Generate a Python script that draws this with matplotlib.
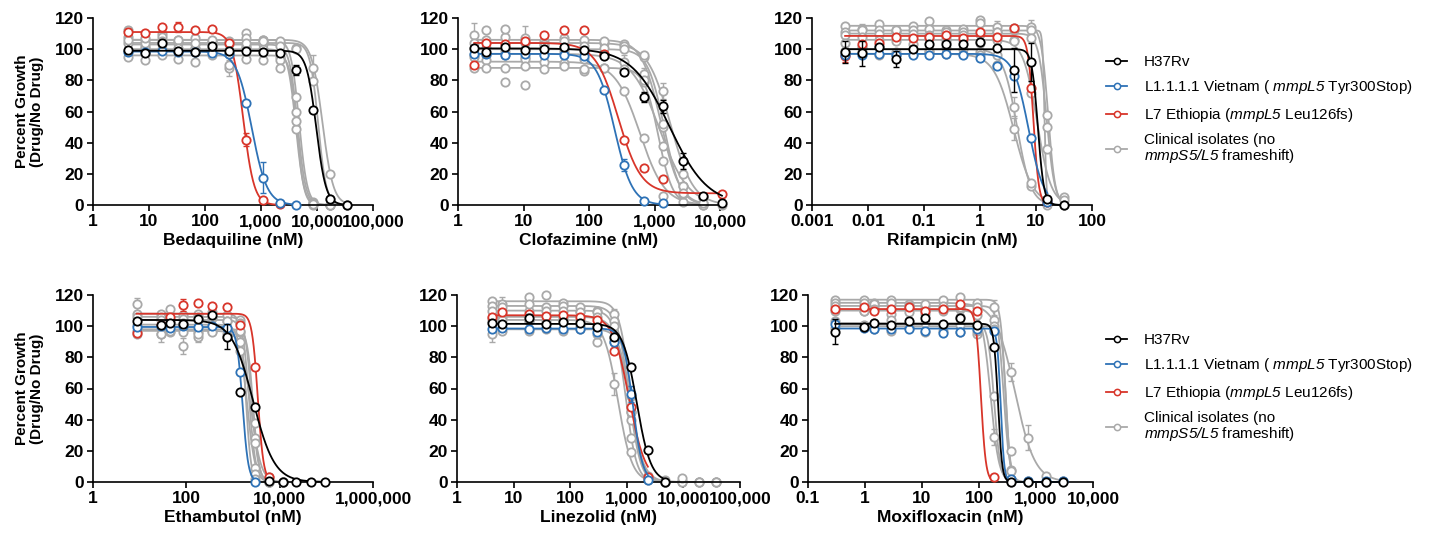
import numpy as np
import matplotlib
matplotlib.use("Agg")
import matplotlib.pyplot as plt
from matplotlib.lines import Line2D

plt.rcParams['font.family'] = ['Liberation Sans', 'DejaVu Sans']
# only the gene names are mathtext, so the math roman font is the italic face
plt.rcParams['mathtext.fontset'] = 'custom'
plt.rcParams['mathtext.rm'] = 'Liberation Sans:italic'
plt.rcParams['mathtext.it'] = 'Liberation Sans:italic'

nan = np.nan

# ---------------- data ----------------
# fit tuples are (top, bottom, IC50, hill slope); error dicts are {index: SD}

# Bedaquiline
bdq_conc = [4.2, 8.4, 16.8, 33.6, 67, 134, 268, 537, 1075, 2150, 4300, 8600, 17200, 34400]
bdq_h37rv = [99.6, 97.7, 103.8, 99.1, 98.5, 101.9, 99.1, 99.1, 98.5, 97.4, 86.6, 61.2, 3.6, 0.0]
bdq_viet = [98.5, 98.0, 99.0, 98.0, 98.5, 97.5, 97.0, 65.5, 17.5, 1.5, 0.0, nan, nan, nan]
bdq_eth = [111, 110.4, 114.3, 114.3, 112, 113, 104, 42, 3.2, 0.5, nan, nan, nan, nan]
bdq_clin = [
    [108, 106, 110, 104, 107, 105, 104, 110.5, 106, 104, 69, 2, 0, nan],
    [104, 102, 100, 106, 101, 104, 97, 102, 103, 95, 60, 1, 0, nan],
    [99, 101, 103, 99, 100, 98, 88, 101, 100, 93, 49, 0, 0, nan],
    [95, 93, 96, 94, 92, 96, 90, 94, 93, 88, 54, 0.5, 0, nan],
    [112, 104, 108, 106, 103, 106, 105, 107, 106, 105, 101, 88, 19.6, 0],
    [106, 107, 105, 101, 104, 100, 103, 104, 105, 102, 100, 79.5, 4, 0],
]
bdq_fit_h37rv = (99, 0, 9700, 5)
bdq_fit_viet = (98.5, 0, 685, 3.2)
bdq_fit_eth = (111, 0, 481, 4.5)
bdq_fit_clin = [(106, 0, 4800, 6), (103, 0, 4500, 6), (100, 0, 4200, 6),
                (96, 0, 4400, 7), (106, 0, 12500, 4.5), (104, 0, 10500, 6)]
bdq_err_h37rv = {10: 3}
bdq_err_viet = {8: 10}
bdq_err_eth = {3: 3, 7: 4}
bdq_err_clin = [(0, 0, 6), (4, 11, 8), (2, 6, 5), (5, 0, 4)]

# Clofazimine
cfz_conc = [1.77, 2.64, 5.2, 10.4, 20.8, 42, 85, 170, 345, 690, 1370, 2750, 5450, 10700]
cfz_h37rv = [100.6, 98.1, 101.3, 99.6, 100.2, 101.3, 99.6, 95.5, 85.3, 69.3, 63.3, 28.4, 5.8, 1.5]
cfz_viet = [97, 97, 96.5, 97, 96, 96.5, 95.5, 74, 25.5, 2.5, 1, nan, nan, nan]
cfz_eth = [90, 104, 103, 105, 109, 112, 112.5, 97, 42, 23.5, 17, nan, nan, 7]
cfz_clin = [
    [109, 106, 108, 104, 105, 107, 106, 104, 103.4, 84, 50, 12, 1, nan],
    [104, 112, 113, 107, 103, 105, 102, 105, 102, 95, 73, 20, 5, 0],
    [96, 96, 99, 95, 97, 98, 94, 97, 92, 79, 38, 12, 4.5, nan],
    [95, 93, 96, 94, 92, 91, 86, 88, 73, 43, 6, 2, 0, nan],
    [88, 88, 88, 89, 87.5, 89, 87, 88, 87, 80, 28, 7, 0, nan],
    [100, 101, 78.9, 76.8, 102, 100, 99, 101, 100, 96, 52, 8, 1, nan],
]
cfz_fit_h37rv = (100.5, 0, 1700, 1.5)
cfz_fit_viet = (97, 0, 246, 3.2)
cfz_fit_eth = (104, 7.5, 280, 2.5)
cfz_fit_clin = [(106, 0, 1250, 3), (104, 0, 1750, 2.5), (97, 0, 1200, 2),
                (92, 0, 600, 2.3), (88, 0, 1150, 4), (100, 0, 1400, 3.5)]
cfz_err_h37rv = {9: 3, 10: 4, 11: 5}
cfz_err_viet = {8: 4}
cfz_err_eth = {}
cfz_err_clin = [(0, 0, 8), (1, 3, 8), (1, 10, 5), (0, 9, 4), (2, 8, 4)]

# Rifampicin
rif_conc = [0.0039, 0.0078, 0.0156, 0.031, 0.0625, 0.125, 0.25, 0.5, 1, 2, 4, 8, 16, 32]
rif_h37rv = [98, 97.4, 101.3, 93.8, 100.2, 103, 103, 103, 104.5, 100.9, 86.8, 91.7, 3.8, 0]
rif_viet = [96, 96.5, 97, 96, 96.5, 96.5, 97, 96, 94.4, 89.5, 82.5, 43, 2, nan]
rif_eth = [95.5, 103, 104, 108, 107, 108, 109, 107, 110.8, 108, 113.6, 75, 2, nan]
rif_clin = [
    [115, 113, 116, 112, 115, 118, 112, 113, 119, 114, 113.6, 114, 58, 5],
    [111, 112, 112, 111, 112, 113, 111, 111, 116.8, 111, 112, 112, 3, 0],
    [109, 108, 110, 112, 110, 109, 108, 109, 110, 111, 106, 107, 50, 3],
    [104, 102, 106, 105, 103, 107, 105, 106, 104, 106, 105, 72, 36, 0],
    [99, 101, 102, 98, 100, 99, 101, 100, 98, 96, 63, 12, 0, nan],
    [97, 98, 96, 96, 97, 98, 97, 97, 96, 90, 49, 14, 2, nan],
]
rif_fit_h37rv = (100, 0, 10.8, 8)
rif_fit_viet = (97, 0, 7.4, 3.2)
rif_fit_eth = (108.5, 0, 9, 9)
rif_fit_clin = [(115, 0, 16.5, 7), (112, 0, 14.2, 25), (110, 0, 15.5, 6),
                (106, 0, 10.5, 3.5), (100, 0, 4.6, 3.5), (97, 0, 4.0, 2.5)]
rif_err_h37rv = {0: 7, 1: 8, 3: 5, 10: 14, 11: 12}
rif_err_viet = {}
rif_err_eth = {0: 4}
rif_err_clin = [(5, 10, 7), (4, 10, 6), (0, 9, 4), (0, 11, 5), (0, 1, 3)]

# Ethambutol
emb_conc = [8.6, 28.6, 44.7, 86, 174, 360, 733, 1410, 2960, 6000, 11600, 22200, 46500, 93000]
emb_h37rv = [103.5, 100.9, 102, 101.4, 104.6, 107.1, 93.2, 58, 48.2, 0.5, 0, 0, 0, 0]
emb_viet = [99.2, 100, 99, 100, 99.5, 100, 99, 70.3, 0, nan, nan, nan, nan, nan]
emb_eth = [95.6, 101, 106, 113.5, 115, 113, 112, 101, 74, 3, nan, nan, nan, nan]
emb_clin = [
    [114, 108, 111, 107, 108, 109, 107, 104, 9, 0, 0, nan, nan, nan],
    [108, 106, 104, 104.6, 106, 105, 103, 102, 28, 0.5, 0, nan, nan, nan],
    [101, 95, 101, 87.4, 92.8, 100, 95, 89.6, 5, 0, 0, nan, nan, nan],
    [97, 99, 96, 98, 96, 97, 99, 96, 38, 0, 0, nan, nan, nan],
    [106, 104, 103, 102, 104, 106, 103, 97, 2, 0, 0, nan, nan, nan],
    [95, 95, 97, 96, 95, 96, 93, 84, 25, 3, 0, nan, nan, nan],
]
emb_fit_h37rv = (104, 0, 2700, 1.9)
emb_fit_viet = (99.5, 0, 1600, 7)
emb_fit_eth = (108, 0, 3400, 7)
emb_fit_clin = [(108, 0, 2200, 6), (106, 0, 2500, 6), (101, 0, 2000, 5),
                (98, 0, 2700, 7), (104, 0, 1900, 8), (97, 0, 2400, 4)]
emb_err_h37rv = {6: 8}
emb_err_viet = {}
emb_err_eth = {3: 4}
emb_err_clin = [(0, 0, 4), (2, 1, 5), (2, 3, 5), (2, 4, 3), (3, 6, 4)]

# Linezolid
lzd_conc = [4.2, 6.3, 19, 37, 74, 148, 296, 590, 1180, 2360, 4720, 9440, 18900, 37800]
lzd_h37rv = [101.8, 101.4, 105, 101.4, 102.4, 102, 99.6, 93.2, 73.5, 20.6, 0, nan, nan, nan]
lzd_viet = [98.5, 99, 98, 99, 98, 98.5, 96.5, 90, 56.4, 1, nan, nan, nan, nan]
lzd_eth = [106, 108.9, 108, 106.5, 107, 106, 104, 84, 48, 3, nan, nan, nan, nan]
lzd_clin = [
    [116, 114, 118.5, 120, 115, 110, 110, 108, 55, 3, 0, 0, 0, 0],
    [113, 112, 110, 112, 113, 112, 109, 103, 45, 2, 0, 0.5, 0, 0],
    [110, 108, 114, 109.6, 110, 109, 106, 100, 28, 1, 0, 0, nan, nan],
    [105, 106, 104, 104, 105, 104, 100, 90, 40, 4, 1, 2.5, 0, 0],
    [103, 104, 103, 102, 104, 100, 90, 63, 19, 2, 0, nan, nan, nan],
    [95, 97, 97, 98, 97, 98, 95, 92, 45, 3, 0, nan, nan, nan],
]
lzd_fit_h37rv = (101.5, 0, 1500, 3.5)
lzd_fit_viet = (98.5, 0, 1280, 5)
lzd_fit_eth = (107, 0, 1100, 3)
lzd_fit_clin = [(116, 0, 1150, 4.5), (113, 0, 1100, 4), (110, 0, 950, 4.5),
                (106, 0, 1100, 3.5), (104, 0, 700, 3.5), (98, 0, 1150, 4.5)]
lzd_err_h37rv = {2: 3}
lzd_err_viet = {8: 5}
lzd_err_eth = {}
lzd_err_clin = [(0, 1, 5), (0, 7, 3), (4, 7, 7), (5, 0, 5), (1, 6, 3)]

# Moxifloxacin
mfx_conc = [0.3, 0.98, 1.46, 2.9, 5.8, 11.5, 23, 46, 92, 184, 368, 736, 1472, 2944]
mfx_h37rv = [96.4, 99.6, 102, 100.7, 103.5, 105, 101.4, 105, 100.7, 86.4, 0, 0, 0, 0]
mfx_viet = [101.5, 99, 98.5, 98, 98, 97, 95.5, 96, 98, 97, 2, 0.5, 0.5, 0.5]
mfx_eth = [111, 112, 110, 111, 112, 110, 111, 114, 110, 3.5, nan, nan, nan, nan]
mfx_clin = [
    [117, 117, 115, 117, 114, 113, 117, 119, 115, 112, 20, 0, 0, nan],
    [115, 115, 113, 111, 112, 110, 112, 111, 107, 104, 70.6, 28.5, 4, 0.5],
    [113, 110, 114, 115, 113, 114, 113, 112, 112, 100, 8, 0, 0, nan],
    [110, 110, 111, 108, 109, 108, 110, 106, 100, 29, 1, 0, nan, nan],
    [103, 101, 102, 104, 100, 102, 100, 101, 95, 55, 0, 0, nan, nan],
    [99, 100, 98, 97, 99, 96, 97, 96, 97, 98, 7, 0.5, 0, nan],
]
mfx_fit_h37rv = (101.5, 0, 215, 12)
mfx_fit_viet = (98.5, 0, 240, 14)
mfx_fit_eth = (111, 0, 108, 10)
mfx_fit_clin = [(117, 0, 290, 10), (115, 0, 430, 2.5), (113, 0, 270, 8),
                (110, 0, 160, 6), (102, 0, 185, 8), (100, 0, 300, 12)]
mfx_err_h37rv = {0: 8}
mfx_err_viet = {0: 3}
mfx_err_eth = {}
mfx_err_clin = [(0, 9, 5), (1, 11, 8), (1, 10, 6), (3, 9, 5)]

# axis labels / ticks
drug_names = ['Bedaquiline (nM)', 'Clofazimine (nM)', 'Rifampicin (nM)',
              'Ethambutol (nM)', 'Linezolid (nM)', 'Moxifloxacin (nM)']
bdq_ticks = [1, 10, 100, 1000, 10000, 100000]
cfz_ticks = [1, 10, 100, 1000, 10000]
rif_ticks = [0.001, 0.01, 0.1, 1, 10, 100]
emb_ticks = [1, 100, 10000, 1000000]
lzd_ticks = [1, 10, 100, 1000, 10000, 100000]
mfx_ticks = [0.1, 1, 10, 100, 1000, 10000]
y_ticks = [0, 20, 40, 60, 80, 100, 120]

legend_labels = ['H37Rv',
                 'L1.1.1.1 Vietnam ( $\\mathrm{mmpL5}$ Tyr300Stop)',
                 'L7 Ethiopia ($\\mathrm{mmpL5}$ Leu126fs)',
                 'Clinical isolates (no\n$\\mathrm{mmpS5/L5}$ frameshift)']

BLACK = '#000000'
BLUE = '#2e72b6'
RED = '#d8352a'
GRAY = '#a9a9a9'


def hill(x, top, bottom, ic50, h):
    return bottom + (top - bottom) / (1 + (x / ic50) ** h)


panels = [
    (bdq_conc, bdq_h37rv, bdq_viet, bdq_eth, bdq_clin, bdq_fit_h37rv, bdq_fit_viet, bdq_fit_eth,
     bdq_fit_clin, bdq_err_h37rv, bdq_err_viet, bdq_err_eth, bdq_err_clin, bdq_ticks),
    (cfz_conc, cfz_h37rv, cfz_viet, cfz_eth, cfz_clin, cfz_fit_h37rv, cfz_fit_viet, cfz_fit_eth,
     cfz_fit_clin, cfz_err_h37rv, cfz_err_viet, cfz_err_eth, cfz_err_clin, cfz_ticks),
    (rif_conc, rif_h37rv, rif_viet, rif_eth, rif_clin, rif_fit_h37rv, rif_fit_viet, rif_fit_eth,
     rif_fit_clin, rif_err_h37rv, rif_err_viet, rif_err_eth, rif_err_clin, rif_ticks),
    (emb_conc, emb_h37rv, emb_viet, emb_eth, emb_clin, emb_fit_h37rv, emb_fit_viet, emb_fit_eth,
     emb_fit_clin, emb_err_h37rv, emb_err_viet, emb_err_eth, emb_err_clin, emb_ticks),
    (lzd_conc, lzd_h37rv, lzd_viet, lzd_eth, lzd_clin, lzd_fit_h37rv, lzd_fit_viet, lzd_fit_eth,
     lzd_fit_clin, lzd_err_h37rv, lzd_err_viet, lzd_err_eth, lzd_err_clin, lzd_ticks),
    (mfx_conc, mfx_h37rv, mfx_viet, mfx_eth, mfx_clin, mfx_fit_h37rv, mfx_fit_viet, mfx_fit_eth,
     mfx_fit_clin, mfx_err_h37rv, mfx_err_viet, mfx_err_eth, mfx_err_clin, mfx_ticks),
]

# axes boxes in pixels: (left, right, y of 120, y of 0)
W, H = 1432, 539
boxes = [(93, 373, 18, 205), (458, 720, 18, 205), (812, 1092, 18, 205),
         (93, 373, 295, 482), (457, 740, 295, 482), (808, 1093, 295, 482)]


def series(ax, conc, vals, fit, err, color, z):
    x = np.array(conc, dtype=float)
    y = np.array(vals, dtype=float)
    m = ~np.isnan(y)
    xs = np.logspace(np.log10(x[m].min()), np.log10(x[m].max()), 400)
    ax.plot(xs, hill(xs, *fit), color=color, lw=1.3, zorder=z, clip_on=False)
    for i, e in err.items():
        ax.errorbar(x[i], y[i], yerr=e, color=color, lw=1.0, capsize=2.5,
                    capthick=1.0, zorder=z, clip_on=False, fmt='none')
    ax.plot(x[m], y[m], 'o', ms=6.0, mfc='white', mec=color, mew=1.3,
            zorder=z + 0.5, clip_on=False)


def fmt_tick(t):
    return f"{t:,}" if t >= 1 else f"{t:g}"


fig = plt.figure(figsize=(W / 100, H / 100), dpi=100)

for k, p in enumerate(panels):
    (conc, h37, viet, eth, clin, f_h37, f_viet, f_eth, f_clin,
     e_h37, e_viet, e_eth, e_clin, ticks) = p
    l, r, t, b = boxes[k]
    ax = fig.add_axes([l / W, 1 - b / H, (r - l) / W, (b - t) / H])
    ax.set_xscale('log')

    for j, vals in enumerate(clin):
        ej = {ci: e for (gi, ci, e) in e_clin if gi == j}
        series(ax, conc, vals, f_clin[j], ej, GRAY, 2)
    series(ax, conc, eth, f_eth, e_eth, RED, 4)
    series(ax, conc, viet, f_viet, e_viet, BLUE, 5)
    series(ax, conc, h37, f_h37, e_h37, BLACK, 6)

    ax.set_xlim(ticks[0], ticks[-1])
    ax.set_ylim(0, 120)
    ax.set_xticks(ticks)
    ax.set_xticklabels([fmt_tick(v) for v in ticks])
    ax.xaxis.set_minor_locator(matplotlib.ticker.NullLocator())
    ax.set_yticks(y_ticks)
    ax.set_yticklabels([str(v) for v in y_ticks])
    for s in ['top', 'right']:
        ax.spines[s].set_visible(False)
    for s in ['left', 'bottom']:
        ax.spines[s].set_linewidth(1.2)
    ax.tick_params(direction='out', length=4.5, width=1.2, pad=2,
                   labelsize=12.5)
    for lab in ax.get_xticklabels() + ax.get_yticklabels():
        lab.set_fontweight('bold')
    ax.set_xlabel(drug_names[k], fontsize=12.5, fontweight='bold', labelpad=3)
    if k % 3 == 0:
        ax.set_ylabel('Percent Growth\n(Drug/No Drug)', fontsize=11,
                      fontweight='bold', labelpad=8, linespacing=1.05)

# legends
handles = [Line2D([], [], color=c, lw=1.3, marker='o', ms=4.5, mfc='white',
                  mec=c, mew=1.1) for c in [BLACK, BLUE, RED, GRAY]]
for ytop in [55, 333]:
    leg = fig.legend(handles, legend_labels, loc='upper left',
                     bbox_to_anchor=(1106 / W, 1 - ytop / H), frameon=False,
                     fontsize=11, handlelength=1.4, handletextpad=1.1,
                     labelspacing=0.62, borderpad=0, borderaxespad=0)
    for txt in leg.get_texts():
        txt.set_linespacing(0.95)

fig.savefig('out.png', dpi=100)
